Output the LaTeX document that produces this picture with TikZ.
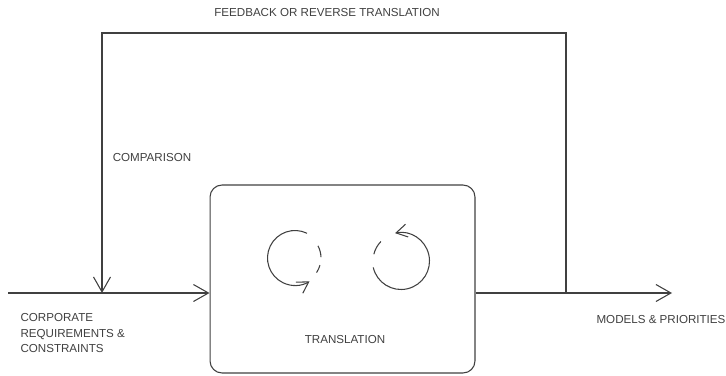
\documentclass[tikz,border=0pt]{standalone}
\usepackage{fontspec}
\setmainfont{Liberation Sans}
\usetikzlibrary{arrows.meta}
\begin{document}
\begin{tikzpicture}[x=0.02cm,y=-0.02cm,
    line width=0.6pt,draw=black!75,
    every node/.style={text=black!75,font=\fontsize{6.6}{8.8}\selectfont},
    arr/.style={-{Straight Barb[length=3mm,width=3.4mm]}},
    spin/.style={-{Straight Barb[length=2.2mm,width=2.6mm]}},
    procbox/.style={draw,rounded corners=0.24cm,minimum width=5.3cm,minimum height=3.76cm}]
    \useasboundingbox (0,0) rectangle (726,375);
    \node[procbox] (box) at (342.5,279) {};
    \node (trl) at (345,340) {TRANSLATION};
    \coordinate (in) at (8,293);
    \coordinate (cmp) at (102,293);
    \coordinate (fbl) at (102,33);
    \coordinate (tap) at (566,293);
    \coordinate (out) at (672,293);
    \coordinate (lc) at (295,258);
    \coordinate (rc) at (401,261);
    % input, output and feedback loop
    \draw[arr] (in) -- (in -| box.west);
    \draw[arr] (box.east |- tap) -- (out);
    \draw[arr] (tap) |- (fbl) -- (cmp);
    % the two turning arrows
    \draw[spin] ([shift={(64:0.55cm)}]lc) arc[start angle=64,end angle=302,radius=0.55cm];
    \draw ([shift={(28:0.52cm)}]lc) arc[start angle=28,end angle=2,radius=0.52cm];
    \draw ([shift={(-16:0.52cm)}]lc) arc[start angle=-16,end angle=-34,radius=0.52cm];
    \draw[spin] ([shift={(193:0.57cm)}]rc) arc[start angle=193,end angle=462,radius=0.57cm];
    \draw ([shift={(166:0.56cm)}]rc) arc[start angle=166,end angle=136,radius=0.56cm];
    % labels
    \node (fbk) at (327,13) {FEEDBACK OR REVERSE TRANSLATION};
    \node (cmpl) at (152,158) {COMPARISON};
    \node[anchor=north west,align=left,inner sep=0pt] (crp) at (20,313) {CORPORATE\\REQUIREMENTS \&\\CONSTRAINTS};
    \node (mdl) at (661,320) {MODELS \& PRIORITIES};
\end{tikzpicture}
\end{document}
